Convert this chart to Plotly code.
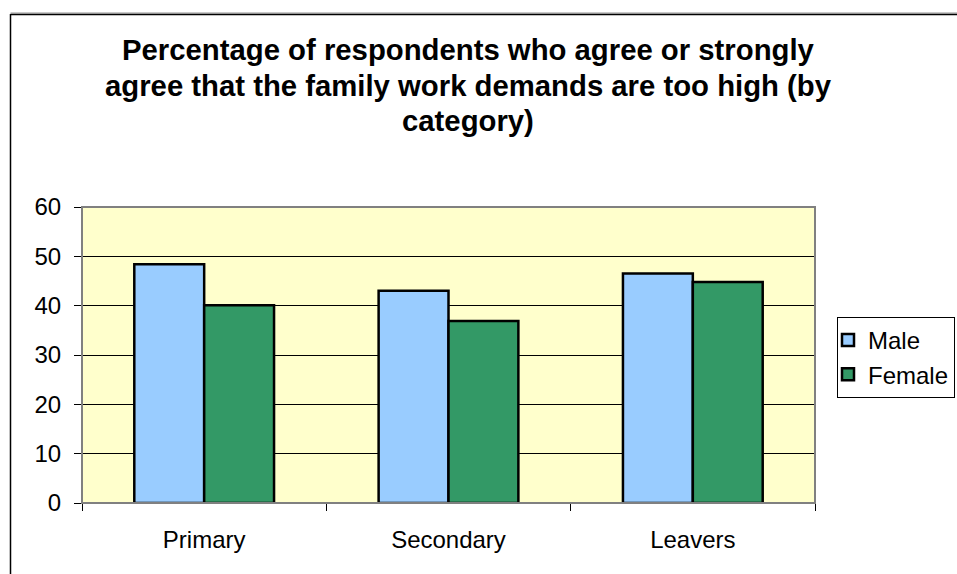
import plotly.graph_objects as go

# Survey results by category
categories = ["Primary", "Secondary", "Leavers"]
male = [48.4, 43.0, 46.5]
female = [40.1, 36.9, 44.8]
y_ticks = [0, 10, 20, 30, 40, 50, 60]

W, H = 957, 574
L, R, T, B = 82, 142, 207, 71
PW, PH = W - L - R, H - T - B


def px_x(px):
    return (px - L) / PW


def px_y(py):
    return (H - B - py) / PH


FONT = "Liberation Sans, Arial, sans-serif"

fig = go.Figure()
fig.add_trace(go.Bar(
    name="Male", x=categories, y=male,
    marker=dict(color="#99CCFF", line=dict(color="#000000", width=2.5)),
))
fig.add_trace(go.Bar(
    name="Female", x=categories, y=female,
    marker=dict(color="#339966", line=dict(color="#000000", width=2.5)),
))

shapes = [
    # outer chart frame
    dict(type="line", xref="paper", yref="paper", x0=px_x(10.5), x1=px_x(960),
         y0=px_y(13), y1=px_y(13), line=dict(color="#909090", width=1)),
    dict(type="line", xref="paper", yref="paper", x0=px_x(10.5), x1=px_x(960),
         y0=px_y(14.5), y1=px_y(14.5), line=dict(color="#000000", width=1.5)),
    dict(type="line", xref="paper", yref="paper", x0=px_x(10.5), x1=px_x(10.5),
         y0=px_y(14), y1=px_y(580), line=dict(color="#000000", width=1.5)),
    # plot area border
    dict(type="rect", xref="paper", yref="paper", x0=0, x1=1, y0=0, y1=1,
         line=dict(color="#808080", width=2), layer="above"),
]

title_lines = [
    "Percentage of respondents who agree or strongly",
    "agree that the family work demands are too high (by",
    "category)",
]
annotations = []
for i, line in enumerate(title_lines):
    annotations.append(dict(
        text="<b>%s</b>" % line, xref="paper", yref="paper",
        x=px_x(468), y=px_y(50 + 35 * i), xanchor="center", yanchor="middle",
        showarrow=False, font=dict(family=FONT, size=29.3, color="#000000"),
    ))

fig.update_layout(
    width=W, height=H,
    margin=dict(l=L, r=R, t=T, b=B, autoexpand=False),
    paper_bgcolor="#FFFFFF",
    plot_bgcolor="#FFFFCC",
    barmode="group",
    bargap=0.428,
    bargroupgap=0,
    font=dict(family=FONT, size=24, color="#000000"),
    shapes=shapes,
    annotations=annotations,
    legend=dict(
        x=px_x(837), y=px_y(317), xanchor="left", yanchor="top",
        bordercolor="#000000", borderwidth=1, bgcolor="#FFFFFF",
        font=dict(family=FONT, size=24, color="#000000"),
        itemwidth=30, tracegroupgap=0, indentation=-10,
    ),
    showlegend=True,
)
fig.update_xaxes(
    showgrid=False, showline=True, linecolor="#000000", linewidth=1,
    ticks="outside", tickson="boundaries", ticklen=7, tickcolor="#000000",
    ticklabelstandoff=15, zeroline=False,
)
fig.update_yaxes(
    range=[0, 60], tickvals=y_ticks, showgrid=True, gridcolor="#000000",
    gridwidth=1, showline=True, linecolor="#000000", linewidth=1,
    ticks="outside", ticklen=7, tickcolor="#000000", ticklabelstandoff=8,
    zeroline=False,
)

fig.write_html("out.html")
